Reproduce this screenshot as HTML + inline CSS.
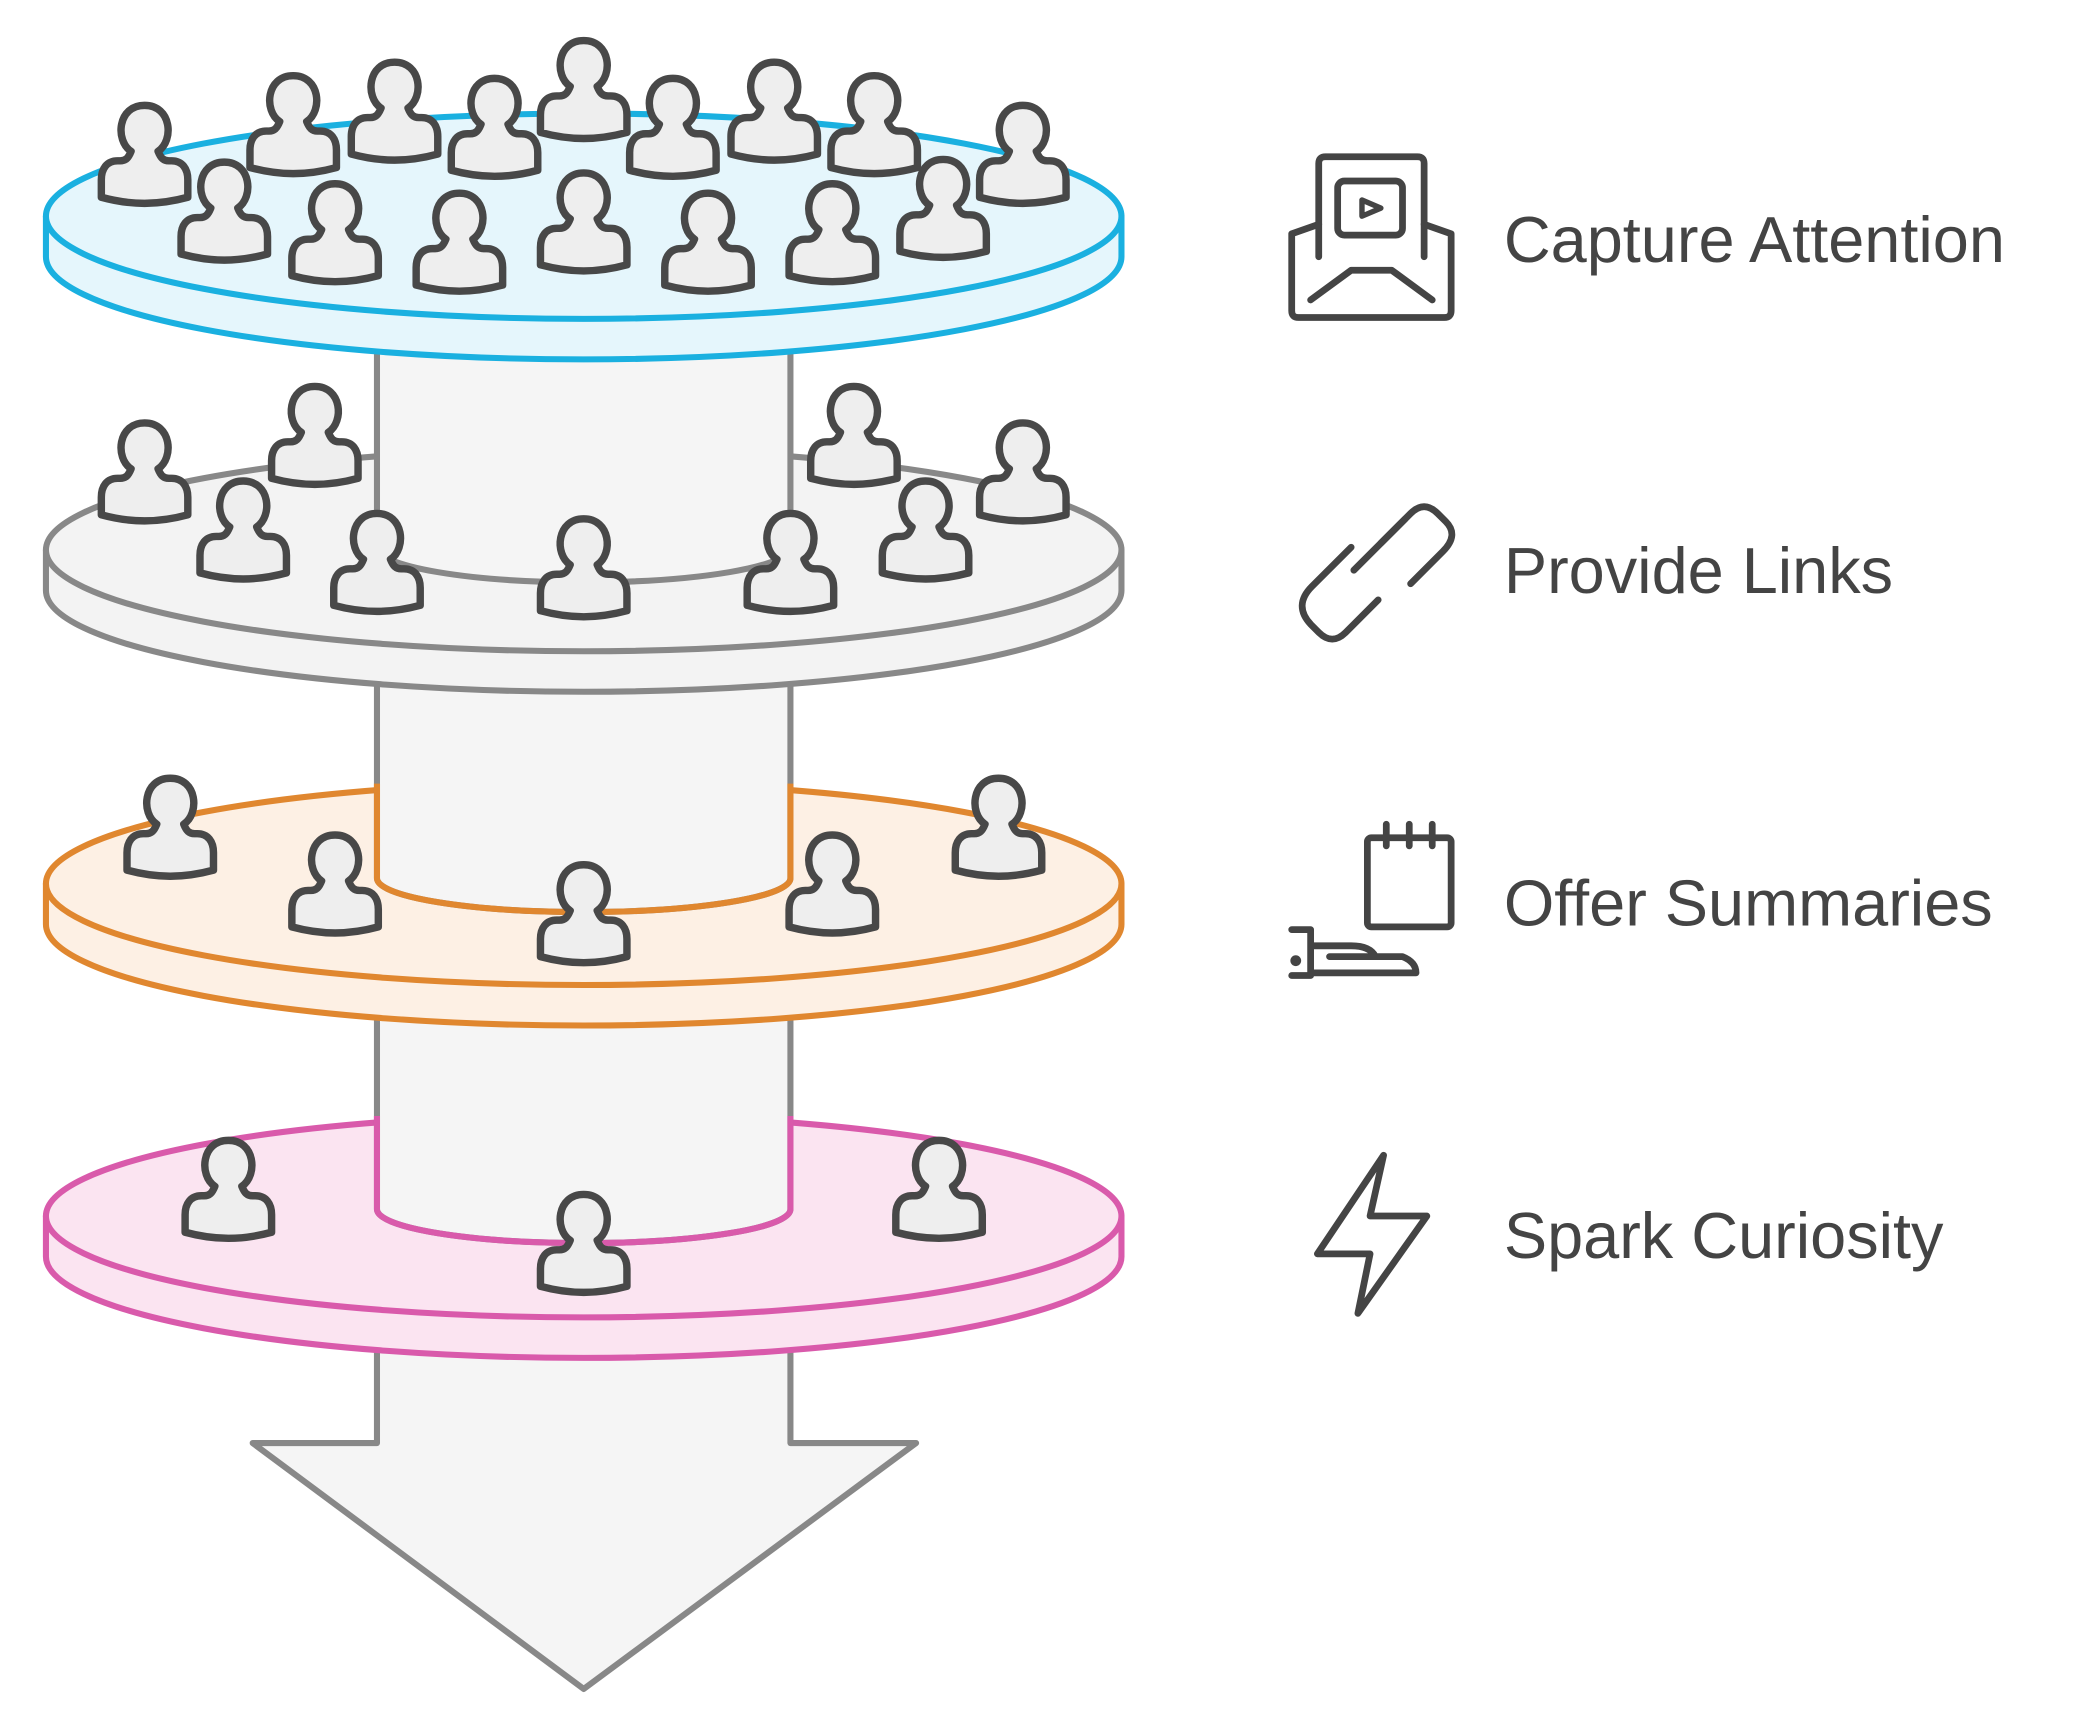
<!DOCTYPE html>
<html><head><meta charset="utf-8"><style>
html,body{margin:0;padding:0;background:#fff;}
svg{display:block;}
</style></head><body>
<svg width="2097" height="1718" viewBox="0 0 1552 1271.5" xmlns="http://www.w3.org/2000/svg">
<defs>
<path id="p" d="M -10,-38 C -22,-46 -20,-72 0,-72 C 20,-72 22,-46 10,-38 C 12,-33 14,-31 18,-31 L 20,-31 C 28,-31 32,-25 32,-17 L 32,-4 C 10,2 -10,2 -32,-4 L -32,-17 C -32,-25 -28,-31 -20,-31 L -18,-31 C -14,-31 -12,-33 -10,-38 Z" fill="#eeeeee" stroke="#484848" stroke-width="5.5" stroke-linejoin="round"/>
</defs>
<g stroke-width="4.5" stroke-linejoin="round">
<path d="M279,950 L279,1068 L187,1068 L432,1250 L678,1068 L585,1068 L585,950 Z" fill="#f5f5f5" stroke="#888"/>
<path d="M34,900 L34,930 A398,75 0 0 0 830,930 L830,900 Z" fill="#fbe4f1" stroke="#d95aab"/>
<ellipse cx="432" cy="900" rx="398" ry="75" fill="#fbe4f1" stroke="#d95aab"/>
<path d="M279,700 L279,895 A153,25 0 0 0 585,895 L585,700 Z" fill="#f5f5f5" stroke="#888"/>
<path d="M279,826 L279,895 A153,25 0 0 0 585,895 L585,826" fill="none" stroke="#d95aab"/>
<use href="#p" x="169" y="916"/><use href="#p" x="432" y="956"/><use href="#p" x="695" y="916"/>
<path d="M34,654 L34,684 A398,75 0 0 0 830,684 L830,654 Z" fill="#fdf0e4" stroke="#e0872f"/>
<ellipse cx="432" cy="654" rx="398" ry="75" fill="#fdf0e4" stroke="#e0872f"/>
<path d="M279,450 L279,650 A153,25 0 0 0 585,650 L585,450 Z" fill="#f5f5f5" stroke="#888"/>
<path d="M279,580 L279,650 A153,25 0 0 0 585,650 L585,580" fill="none" stroke="#e0872f"/>
<use href="#p" x="126" y="648"/><use href="#p" x="248" y="690"/><use href="#p" x="432" y="712"/><use href="#p" x="616" y="690"/><use href="#p" x="739" y="648"/>
<path d="M34,407 L34,437 A398,75 0 0 0 830,437 L830,407 Z" fill="#f3f3f3" stroke="#888"/>
<ellipse cx="432" cy="407" rx="398" ry="75" fill="#f3f3f3" stroke="#888"/>
<path d="M279,200 L279,405 A153,26 0 0 0 585,405 L585,200 Z" fill="#f5f5f5" stroke="#888"/>
<use href="#p" x="107" y="385"/><use href="#p" x="233" y="358"/><use href="#p" x="632" y="358"/><use href="#p" x="757" y="385"/>
<use href="#p" x="180" y="428"/><use href="#p" x="279" y="452"/><use href="#p" x="432" y="456"/><use href="#p" x="585" y="452"/><use href="#p" x="685" y="428"/>
<path d="M34,160 L34,190 A398,76 0 0 0 830,190 L830,160 Z" fill="#e5f6fc" stroke="#1ab0e0"/>
<ellipse cx="432" cy="160" rx="398" ry="76" fill="#e5f6fc" stroke="#1ab0e0"/>
<use href="#p" x="107" y="150"/><use href="#p" x="217" y="128"/><use href="#p" x="292" y="118"/><use href="#p" x="366" y="130"/><use href="#p" x="432" y="102"/><use href="#p" x="498" y="130"/><use href="#p" x="573" y="118"/><use href="#p" x="647" y="128"/><use href="#p" x="757" y="150"/>
<use href="#p" x="166" y="192"/><use href="#p" x="248" y="208"/><use href="#p" x="340" y="215"/><use href="#p" x="432" y="200"/><use href="#p" x="524" y="215"/><use href="#p" x="616" y="208"/><use href="#p" x="698" y="190"/>
</g>
<g fill="none" stroke="#444" stroke-width="5" stroke-linejoin="round" stroke-linecap="round">
<path d="M956,173 L956,230 Q956,235 961,235 L1069,235 Q1074,235 1074,230 L1074,173 L1054,166 M956,173 L976,166"/>
<path d="M976,190 L976,121 Q976,116 981,116 L1049,116 Q1054,116 1054,121 L1054,190"/>
<rect x="990" y="134" width="48" height="40" rx="5"/>
<path d="M1008,148 L1008,160 L1022,154 Z" stroke-width="4"/>
<path d="M970,222 L1000,200 L1030,200 L1060,222"/>
<path d="M1000,405 L971,434 Q957,448 970,462 L976,468 Q986,478 996,468 L1020,444"/>
<path d="M1002,422 L1040,384"/>
<path d="M1022,402 L1044,380 Q1054,370 1064,380 L1070,386 Q1080,396 1068,408 L1044,432"/>
<rect x="1012" y="620" width="62" height="66" rx="3"/>
<path d="M1026,610 L1026,626 M1043,610 L1043,626 M1060,610 L1060,626"/>
<path d="M956,688 L970,688 L970,722 L956,722 M970,700 L1000,700 Q1014,700 1018,708 M984,708 L1038,708 Q1048,712 1048,720 L970,720"/>
<circle cx="959" cy="711" r="1.5" fill="#444"/>
<path d="M1024,855 L975,928 L1014,928 L1005,972 L1056,900 L1014,900 Z"/>
</g>
<g font-family="'Liberation Sans', sans-serif" font-size="48" fill="#444">
<text x="1113" y="194">Capture Attention</text>
<text x="1113" y="439">Provide Links</text>
<text x="1113" y="685">Offer Summaries</text>
<text x="1113" y="931">Spark Curiosity</text>
</g>
</svg>
</body></html>
